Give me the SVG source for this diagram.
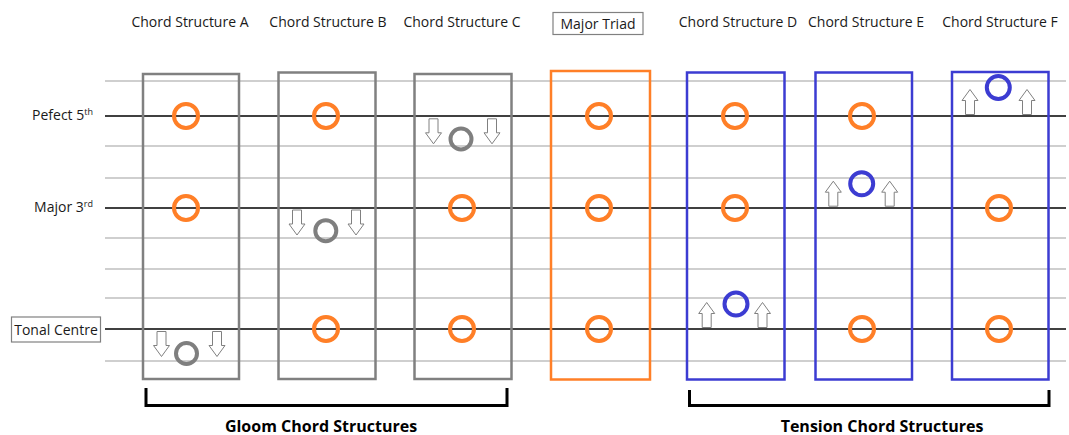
<svg xmlns="http://www.w3.org/2000/svg" width="1069" height="435" viewBox="0 0 1069 435">
<style>
text{font-family:"Open Sans","Noto Sans","Liberation Sans",sans-serif;fill:#1a1a1a}
.lbl{font-size:14px;text-anchor:middle}
.side{font-size:14px;text-anchor:end}
.sup{font-size:9px}
.big{font-size:16px;font-weight:bold;text-anchor:middle;fill:#000}
.thin{stroke:#bfbfbf;stroke-width:1.5}
.thick{stroke:#404040;stroke-width:2}
.rg{fill:none;stroke:#808080;stroke-width:2.5}
.ro{fill:none;stroke:#ff7f27;stroke-width:2.5}
.rb{fill:none;stroke:#3c3cd2;stroke-width:2.5}
.co{fill:none;stroke:#ff7f27;stroke-width:4}
.cg{fill:none;stroke:#7f7f7f;stroke-width:4}
.cb{fill:none;stroke:#3c3cd2;stroke-width:4}
.arr{fill:#fff;stroke:#808080;stroke-width:1}
.box{fill:#fff;stroke:#808080;stroke-width:1.2}
.br{fill:none;stroke:#000;stroke-width:3}
</style>
<defs>
<path id="up" class="arr" d="M0,-12.5 L8,-1.5 L4.5,-1.5 L4.5,12.5 L-4.5,12.5 L-4.5,-1.5 L-8,-1.5 Z"/>
<path id="dn" class="arr" d="M0,12.5 L8,1.5 L4.5,1.5 L4.5,-12.5 L-4.5,-12.5 L-4.5,1.5 L-8,1.5 Z"/>
</defs>
<g id="staff">
<line class="thin" x1="105" y1="81" x2="1066" y2="81"/>
<line class="thick" x1="105" y1="116" x2="1066" y2="116"/>
<line class="thin" x1="105" y1="146" x2="1066" y2="146"/>
<line class="thin" x1="105" y1="178" x2="1066" y2="178"/>
<line class="thick" x1="105" y1="208" x2="1066" y2="208"/>
<line class="thin" x1="105" y1="238" x2="1066" y2="238"/>
<line class="thin" x1="105" y1="269" x2="1066" y2="269"/>
<line class="thin" x1="105" y1="298" x2="1066" y2="298"/>
<line class="thick" x1="105" y1="329" x2="1066" y2="329"/>
<line class="thin" x1="105" y1="361" x2="1066" y2="361"/>
</g>
<g id="row-labels">
<text class="side" x="93" y="120">Pefect 5<tspan class="sup" dy="-5">th</tspan></text>
<text class="side" x="93" y="212">Major 3<tspan class="sup" dy="-5">rd</tspan></text>
<g id="tonal-centre">
<rect class="box" x="11.5" y="317" width="89" height="25"/>
<text class="lbl" x="56" y="334.5">Tonal Centre</text>
</g>
</g>
<g id="chord-a">
<text class="lbl" x="190" y="27">Chord Structure A</text>
<rect class="rg" x="143" y="74" width="96" height="305"/>
<circle class="co" cx="186" cy="116" r="12"/>
<circle class="co" cx="186" cy="208" r="12"/>
<circle class="cg" cx="186.5" cy="353.5" r="10.5"/>
<use href="#dn" x="161.5" y="344"/>
<use href="#dn" x="217" y="344"/>
</g>
<g id="chord-b">
<text class="lbl" x="328" y="27">Chord Structure B</text>
<rect class="rg" x="278.5" y="72.5" width="97" height="306.5"/>
<circle class="co" cx="326" cy="116" r="12"/>
<circle class="co" cx="326" cy="329" r="12"/>
<circle class="cg" cx="325.8" cy="230.7" r="10.5"/>
<use href="#dn" x="297" y="222.5"/>
<use href="#dn" x="356" y="222.5"/>
</g>
<g id="chord-c">
<text class="lbl" x="462" y="27">Chord Structure C</text>
<rect class="rg" x="414.5" y="74" width="97" height="305"/>
<circle class="co" cx="462" cy="208" r="12"/>
<circle class="co" cx="462" cy="329" r="12"/>
<circle class="cg" cx="461" cy="139" r="10.5"/>
<use href="#dn" x="433.5" y="131.3"/>
<use href="#dn" x="492" y="131.3"/>
</g>
<g id="major-triad">
<rect class="box" x="553" y="12.5" width="90" height="22"/>
<text class="lbl" x="598" y="28.5">Major Triad</text>
<rect class="ro" x="551" y="71" width="99" height="308.5"/>
<circle class="co" cx="599" cy="116" r="12"/>
<circle class="co" cx="599" cy="208" r="12"/>
<circle class="co" cx="599" cy="329" r="12"/>
</g>
<g id="chord-d">
<text class="lbl" x="738" y="27">Chord Structure D</text>
<rect class="rb" x="687" y="72.5" width="97.5" height="307"/>
<circle class="co" cx="735" cy="116" r="12"/>
<circle class="co" cx="735" cy="208" r="12"/>
<circle class="cb" cx="736" cy="304" r="11.5"/>
<use href="#up" x="706.7" y="315"/>
<use href="#up" x="762.5" y="315"/>
</g>
<g id="chord-e">
<text class="lbl" x="866" y="27">Chord Structure E</text>
<rect class="rb" x="815.5" y="72.5" width="96.5" height="307"/>
<circle class="co" cx="862" cy="116" r="12"/>
<circle class="co" cx="862" cy="329" r="12"/>
<circle class="cb" cx="861.7" cy="183.7" r="11.5"/>
<use href="#up" x="833.3" y="193.7"/>
<use href="#up" x="889.7" y="193.7"/>
</g>
<g id="chord-f">
<text class="lbl" x="1000" y="27">Chord Structure F</text>
<rect class="rb" x="952" y="72" width="96.5" height="307.5"/>
<circle class="co" cx="999" cy="208" r="12"/>
<circle class="co" cx="999" cy="329" r="12"/>
<circle class="cb" cx="998.3" cy="87.5" r="11.5"/>
<use href="#up" x="970" y="102"/>
<use href="#up" x="1027" y="102"/>
</g>
<g id="groups">
<path class="br" d="M146,388 V405.5 H507 V388"/>
<text class="big" x="321" y="432">Gloom Chord Structures</text>
<path class="br" d="M689.5,390 V405.5 H1049 V390"/>
<text class="big" x="882" y="432">Tension Chord Structures</text>
</g>
</svg>
